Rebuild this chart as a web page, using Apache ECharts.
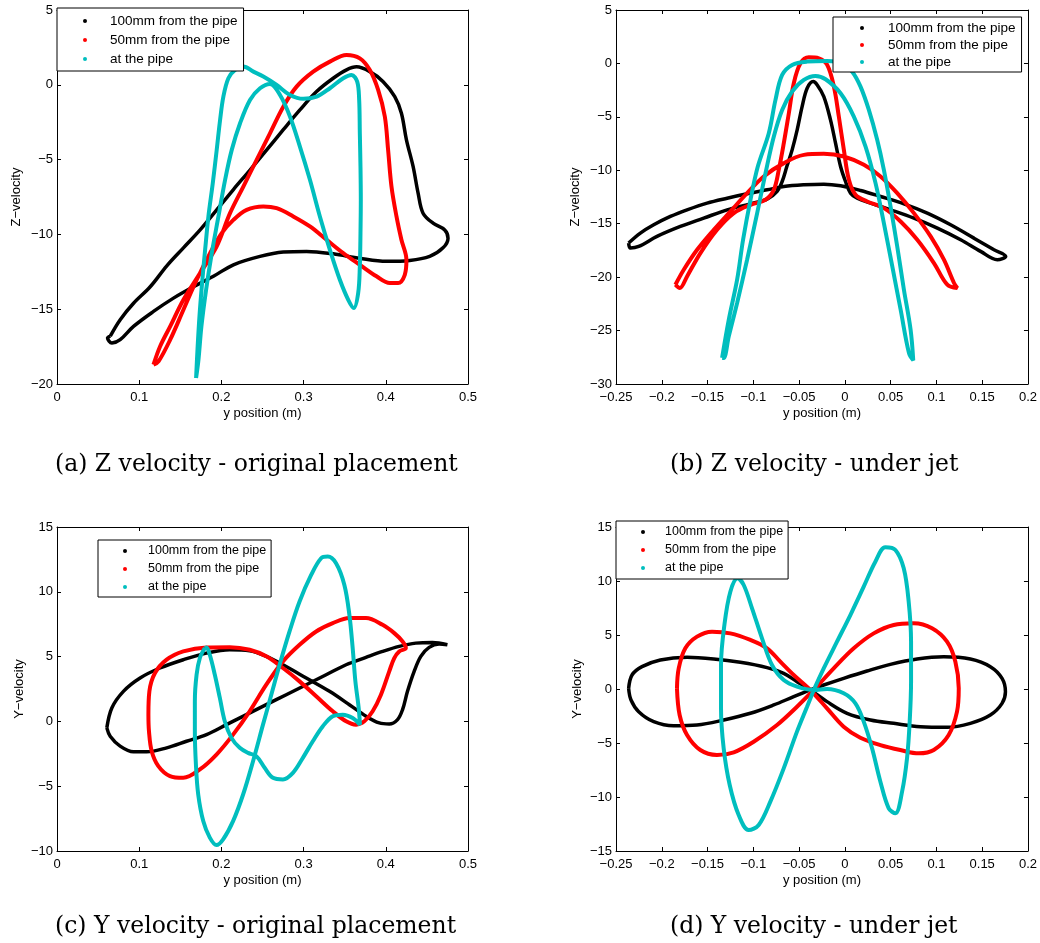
<!DOCTYPE html>
<html>
<head>
<meta charset="utf-8">
<script src="https://cdn.jsdelivr.net/npm/echarts@6/dist/echarts.min.js"></script>
<style>
html,body{margin:0;padding:0;background:#fff;}
#chart{width:1040px;height:943px;}
</style>
</head>
<body>
<div id="chart"></div>
<script>
// ---------- series names ----------
const seriesNames = ['100mm from the pipe', '50mm from the pipe', 'at the pipe'];

// ---------- captions ----------
const captions = [
  '(a) Z velocity - original placement',
  '(b) Z velocity - under jet',
  '(c) Y velocity - original placement',
  '(d) Y velocity - under jet'
];
const yNames = ['Z\u2212velocity', 'Z\u2212velocity', 'Y\u2212velocity', 'Y\u2212velocity'];
const xName = 'y position (m)';

// ---------- axis ranges [min, max, interval] ----------
const xRangeA = [0, 0.5, 0.1];
const yRangeA = [-20, 5, 5];
const xRangeB = [-0.25, 0.2, 0.05];
const yRangeB = [-30, 5, 5];
const xRangeC = [0, 0.5, 0.1];
const yRangeC = [-10, 15, 5];
const xRangeD = [-0.25, 0.2, 0.05];
const yRangeD = [-15, 15, 5];

// ---------- (a) Z velocity - original placement ----------
const aBlack = [[0.0648,-16.8],[0.0769,-15.7],[0.0931,-14.6],[0.1134,-13.5],[0.1336,-12.1],[0.1538,-10.9],[0.1741,-9.7],[0.1943,-8.36],[0.2146,-7.0],[0.2348,-5.7],[0.2551,-4.35],[0.2753,-3.0],[0.2955,-1.68],[0.3158,-0.45],[0.336,0.44],[0.3522,1.0],[0.3644,1.2],[0.3806,0.88],[0.3968,0.21],[0.4109,-0.79],[0.419,-1.9],[0.4251,-3.68],[0.4332,-5.46],[0.4393,-7.24],[0.4453,-8.58],[0.4575,-9.25],[0.4717,-9.7],[0.4757,-10.25],[0.4696,-10.9],[0.4534,-11.47],[0.4291,-11.74],[0.4008,-11.8],[0.3684,-11.6],[0.336,-11.3],[0.3036,-11.14],[0.2753,-11.18],[0.247,-11.47],[0.2146,-12.03],[0.1903,-12.8],[0.166,-13.5],[0.1417,-14.26],[0.1174,-15.15],[0.0931,-16.15],[0.0769,-17.04],[0.0668,-17.26],[0.0615,-16.93],[0.0648,-16.8]];
const aRed = [[0.1174,-18.71],[0.1255,-17.48],[0.1377,-16.15],[0.1538,-14.37],[0.1741,-12.59],[0.1943,-10.8],[0.2105,-8.58],[0.2267,-6.8],[0.2429,-5.02],[0.2591,-3.24],[0.2753,-1.46],[0.2915,-0.12],[0.3117,0.88],[0.332,1.55],[0.3522,2.0],[0.3684,1.77],[0.3806,0.99],[0.3907,-0.34],[0.3988,-2.12],[0.4028,-4.35],[0.4069,-6.8],[0.413,-8.8],[0.419,-10.36],[0.4251,-11.7],[0.4231,-12.7],[0.415,-13.25],[0.4049,-13.25],[0.3887,-12.8],[0.3684,-12.03],[0.3482,-11.25],[0.3279,-10.36],[0.3077,-9.47],[0.2874,-8.8],[0.2672,-8.25],[0.251,-8.13],[0.2308,-8.36],[0.2146,-9.03],[0.2004,-9.92],[0.1862,-11.25],[0.17,-13.03],[0.1538,-15.04],[0.1377,-17.04],[0.1235,-18.49],[0.1174,-18.71]];
const aCyan = [[0.1692,-19.6],[0.1709,-17.71],[0.1733,-15.48],[0.1765,-13.25],[0.1802,-11.03],[0.1842,-8.8],[0.1895,-6.58],[0.1943,-4.35],[0.1984,-2.35],[0.2024,-0.79],[0.2085,0.44],[0.2166,0.99],[0.2267,1.22],[0.2389,0.88],[0.251,0.55],[0.2672,-0.01],[0.2834,-0.68],[0.2996,-0.94],[0.3158,-0.79],[0.332,-0.23],[0.3482,0.44],[0.3583,0.66],[0.3652,0.21],[0.3676,-1.01],[0.3684,-3.24],[0.3692,-5.46],[0.3696,-7.69],[0.3692,-9.92],[0.3684,-12.14],[0.3664,-13.92],[0.3611,-14.92],[0.3543,-14.37],[0.3441,-13.03],[0.332,-11.03],[0.3198,-8.8],[0.3077,-6.35],[0.2955,-4.13],[0.2834,-2.12],[0.2713,-0.68],[0.2591,0.06],[0.247,-0.23],[0.2348,-1.01],[0.2227,-2.57],[0.2126,-4.35],[0.2045,-6.35],[0.1964,-8.8],[0.1883,-11.25],[0.1814,-13.7],[0.1757,-16.15],[0.1721,-18.38],[0.1692,-19.6]];

// ---------- (b) Z velocity - under jet ----------
const bBlack = [[-0.2362,-16.81],[-0.2234,-15.88],[-0.2088,-15.1],[-0.1906,-14.32],[-0.1724,-13.7],[-0.1505,-13.07],[-0.1286,-12.61],[-0.1068,-12.2],[-0.0849,-11.83],[-0.0667,-11.52],[-0.0448,-11.36],[-0.023,-11.3],[-0.0047,-11.45],[0.0171,-11.89],[0.039,-12.45],[0.0645,-13.14],[0.09,-14.01],[0.1155,-15.1],[0.141,-16.35],[0.1629,-17.44],[0.1757,-18.06],[0.1665,-18.37],[0.1483,-17.59],[0.1265,-16.5],[0.101,-15.41],[0.0754,-14.48],[0.05,-13.7],[0.0281,-13.07],[0.0135,-12.61],[0.0062,-12.14],[0.0007,-11.05],[-0.0047,-9.65],[-0.0102,-7.46],[-0.0157,-5.28],[-0.023,-3.1],[-0.0302,-2.01],[-0.0346,-1.7],[-0.0412,-2.32],[-0.0467,-4.04],[-0.0521,-6.22],[-0.0576,-8.09],[-0.0634,-9.65],[-0.0685,-11.05],[-0.074,-11.98],[-0.0849,-12.7],[-0.1031,-13.14],[-0.1286,-13.7],[-0.1542,-14.48],[-0.1797,-15.26],[-0.2052,-16.19],[-0.2252,-17.13],[-0.2343,-17.28],[-0.2362,-16.81]];
const bRed = [[-0.1851,-20.71],[-0.176,-19.31],[-0.1614,-17.44],[-0.1432,-15.57],[-0.125,-13.85],[-0.1068,-12.14],[-0.0886,-10.58],[-0.0667,-9.33],[-0.0448,-8.56],[-0.023,-8.46],[-0.0011,-8.71],[0.0208,-9.49],[0.039,-10.58],[0.0572,-12.14],[0.0754,-14.01],[0.0937,-16.19],[0.1082,-18.37],[0.1192,-20.55],[0.1228,-21.02],[0.1119,-20.71],[0.0973,-18.68],[0.0791,-16.5],[0.0609,-14.79],[0.0427,-13.54],[0.0244,-12.92],[0.0117,-12.3],[0.0044,-10.89],[-0.0011,-8.09],[-0.0066,-4.97],[-0.012,-2.17],[-0.0193,-0.14],[-0.0284,0.48],[-0.0394,0.57],[-0.0485,0.01],[-0.0558,-1.86],[-0.0612,-4.66],[-0.0667,-7.46],[-0.0722,-9.96],[-0.0776,-11.83],[-0.0867,-12.76],[-0.1031,-13.23],[-0.1213,-14.01],[-0.1396,-15.57],[-0.1578,-17.75],[-0.1724,-19.93],[-0.1804,-21.02],[-0.1851,-20.71]];
const bCyan = [[-0.1341,-27.56],[-0.1268,-23.98],[-0.1177,-20.24],[-0.1112,-16.5],[-0.1031,-12.76],[-0.0951,-9.65],[-0.0831,-6.53],[-0.0758,-3.41],[-0.0685,-1.08],[-0.0576,-0.14],[-0.0412,0.17],[-0.0193,0.23],[-0.0029,0.01],[0.008,-0.77],[0.0171,-2.17],[0.0262,-4.35],[0.0353,-7.15],[0.0426,-9.96],[0.0499,-13.39],[0.0572,-17.13],[0.0645,-21.18],[0.0718,-24.92],[0.0747,-27.78],[0.07,-27.1],[0.0609,-23.05],[0.0518,-19.0],[0.0426,-14.94],[0.0335,-11.2],[0.0226,-7.78],[0.0098,-4.97],[-0.0047,-2.79],[-0.0211,-1.48],[-0.0321,-1.17],[-0.0448,-1.54],[-0.0576,-2.63],[-0.0685,-4.35],[-0.0776,-6.84],[-0.0867,-10.27],[-0.0958,-14.01],[-0.1068,-18.37],[-0.1177,-22.42],[-0.1268,-25.54],[-0.1323,-27.56],[-0.1341,-27.56]];

// ---------- (c) Y velocity - original placement ----------
const cBlack = [[0.0606,-0.5],[0.0667,1.04],[0.0808,2.32],[0.1011,3.35],[0.1253,4.12],[0.1536,4.76],[0.1819,5.27],[0.2102,5.53],[0.2344,5.45],[0.2546,5.02],[0.2749,4.37],[0.3032,3.35],[0.3315,2.32],[0.3557,1.29],[0.3759,0.4],[0.3921,-0.12],[0.4042,-0.2],[0.4143,0.14],[0.4204,0.91],[0.4264,2.32],[0.4345,3.86],[0.4426,5.02],[0.4527,5.71],[0.4648,5.97],[0.4749,5.91],[0.4567,6.09],[0.4365,6.04],[0.4163,5.79],[0.3961,5.4],[0.3759,4.94],[0.3517,4.37],[0.3274,3.6],[0.3032,2.83],[0.2789,2.06],[0.2546,1.29],[0.2304,0.52],[0.2061,-0.25],[0.1819,-1.02],[0.1576,-1.53],[0.1334,-2.04],[0.1091,-2.35],[0.093,-2.35],[0.0768,-1.91],[0.0647,-1.14],[0.0606,-0.5]];
const cRed = [[0.1112,0.52],[0.1124,2.32],[0.1192,3.73],[0.1334,4.76],[0.1536,5.4],[0.1819,5.71],[0.2102,5.73],[0.2344,5.53],[0.2546,5.02],[0.2749,4.12],[0.2951,3.09],[0.3153,1.94],[0.3355,0.78],[0.3517,0.01],[0.3638,-0.25],[0.3739,0.01],[0.384,0.78],[0.3941,2.06],[0.4042,3.86],[0.4103,4.89],[0.4163,5.4],[0.4244,5.66],[0.4204,6.17],[0.4103,6.81],[0.3961,7.45],[0.3759,7.97],[0.3557,7.97],[0.3355,7.58],[0.3153,6.94],[0.2951,5.91],[0.2749,4.63],[0.2546,2.83],[0.2344,0.78],[0.2142,-1.02],[0.194,-2.56],[0.1738,-3.71],[0.1536,-4.35],[0.1374,-4.22],[0.1233,-3.45],[0.1152,-2.3],[0.1119,-0.76],[0.1112,0.52]];
const cCyan = [[0.1799,5.66],[0.1738,4.89],[0.1698,3.6],[0.1677,1.55],[0.1677,-0.76],[0.169,-3.33],[0.1718,-5.64],[0.1779,-7.69],[0.1859,-8.97],[0.194,-9.54],[0.2021,-9.1],[0.2142,-7.69],[0.2264,-5.64],[0.2385,-3.07],[0.2506,-0.25],[0.2607,2.06],[0.2708,4.37],[0.2829,6.94],[0.2951,9.25],[0.3092,11.3],[0.3213,12.59],[0.3294,12.72],[0.3395,12.2],[0.3496,10.53],[0.3557,8.22],[0.3597,5.66],[0.363,3.09],[0.367,1.04],[0.3686,-0.25],[0.3597,0.27],[0.3476,0.52],[0.3355,0.4],[0.3234,-0.37],[0.3112,-1.53],[0.2991,-2.81],[0.287,-3.97],[0.2749,-4.48],[0.2627,-4.35],[0.2526,-3.58],[0.2425,-2.68],[0.2324,-2.43],[0.2223,-2.04],[0.2122,-1.27],[0.2041,0.01],[0.1981,1.81],[0.192,3.6],[0.1859,5.14],[0.1819,5.71],[0.1799,5.66]];

// ---------- (d) Y velocity - under jet ----------
const dBlack = [[-0.2362,0.06],[-0.2325,1.3],[-0.2216,2.07],[-0.2016,2.69],[-0.1724,2.93],[-0.1433,2.78],[-0.1142,2.47],[-0.085,1.98],[-0.0668,1.45],[-0.0523,0.68],[-0.0377,-0.09],[-0.0195,-1.17],[0.0024,-2.25],[0.0279,-2.87],[0.0533,-3.18],[0.0825,-3.49],[0.1116,-3.55],[0.1371,-3.18],[0.1589,-2.41],[0.1717,-1.33],[0.1754,-0.25],[0.1717,0.99],[0.1589,2.07],[0.1371,2.78],[0.108,2.99],[0.0789,2.78],[0.0497,2.28],[0.0242,1.67],[-0.0013,0.99],[-0.0231,0.37],[-0.0377,-0.09],[-0.0559,-0.71],[-0.0777,-1.48],[-0.1032,-2.25],[-0.1324,-2.87],[-0.1615,-3.33],[-0.187,-3.4],[-0.2088,-3.02],[-0.2252,-2.1],[-0.2336,-1.02],[-0.2362,0.06]];
const dRed = [[-0.1834,0.06],[-0.1815,1.91],[-0.1743,3.77],[-0.1615,4.85],[-0.1451,5.31],[-0.1251,5.15],[-0.1032,4.54],[-0.085,3.77],[-0.0705,2.53],[-0.0559,1.3],[-0.0377,-0.09],[-0.0195,-1.79],[-0.0013,-3.49],[0.0169,-4.51],[0.0388,-5.19],[0.0606,-5.65],[0.0807,-5.96],[0.0971,-5.65],[0.1134,-4.26],[0.1225,-2.1],[0.1244,0.06],[0.1207,2.53],[0.1116,4.38],[0.0952,5.62],[0.0752,6.08],[0.0533,5.93],[0.0315,5.15],[0.0097,3.77],[-0.0122,1.91],[-0.034,-0.09],[-0.0523,-1.64],[-0.0741,-3.33],[-0.0996,-4.88],[-0.1214,-5.86],[-0.1397,-6.11],[-0.1579,-5.65],[-0.1724,-4.26],[-0.1805,-2.41],[-0.1834,0.06]];
const dCyan = [[-0.034,-0.09],[-0.0231,1.91],[-0.0086,4.38],[0.006,6.85],[0.0206,9.48],[0.0333,11.79],[0.0442,13.12],[0.0552,12.87],[0.0643,11.17],[0.0697,8.09],[0.0723,4.38],[0.0723,0.68],[0.0708,-3.02],[0.0679,-6.42],[0.0625,-9.51],[0.0552,-11.51],[0.0479,-11.05],[0.0388,-8.58],[0.0297,-5.49],[0.0206,-3.02],[0.0115,-1.33],[-0.0013,-0.4],[-0.0195,0.0],[-0.034,-0.09],[-0.0523,0.22],[-0.0668,0.83],[-0.0796,2.22],[-0.0905,4.69],[-0.1014,7.47],[-0.1105,9.63],[-0.1171,10.25],[-0.1251,9.01],[-0.1316,5.93],[-0.1353,2.22],[-0.1353,-1.79],[-0.1324,-5.49],[-0.1258,-8.89],[-0.116,-11.67],[-0.1051,-13.06],[-0.0941,-12.59],[-0.0814,-10.43],[-0.0668,-7.35],[-0.0523,-3.95],[-0.0413,-1.64],[-0.034,-0.09]];

// ---------- layout & styles ----------
const colors = ['#000000', '#ff0000', '#00bebe'];
const lineWidths = [3.5, 4, 4];
const grids = [
  {left: 57, top: 10, width: 411, height: 374},
  {left: 616, top: 10, width: 412, height: 374},
  {left: 57, top: 527, width: 411, height: 324},
  {left: 616, top: 527, width: 412, height: 324}
];
const xRanges = [xRangeA, xRangeB, xRangeC, xRangeD];
const yRanges = [yRangeA, yRangeB, yRangeC, yRangeD];
const panelData = [[aBlack, aRed, aCyan], [bBlack, bRed, bCyan], [cBlack, cRed, cCyan], [dBlack, dRed, dCyan]];
const yNameGaps = [34, 34, 31, 32];
const captionPos = [[55, 453], [670, 453], [55, 915], [670, 915]];
const legendCfg = [
  {left: 57, top: 8, itemWidth: 40, itemGap: 5, fontSize: 13.5, padding: [6, 6, 5, 26]},
  {left: 833, top: 17, itemWidth: 42, itemGap: 3, fontSize: 13.5, padding: [4, 6, 3, 27]},
  {left: 98, top: 540, itemWidth: 36, itemGap: 4, fontSize: 12.5, padding: [4, 5, 3, 25]},
  {left: 616, top: 521, itemWidth: 34, itemGap: 4, fontSize: 12.5, padding: [4, 5, 4, 25]}
];

const font = 'Liberation Sans, Arial, Helvetica, sans-serif';
function fmt(v) {
  const s = String(Math.round(v * 1000) / 1000);
  return s.replace('-', '\u2212');
}

const xAxes = [], yAxes = [], series = [], legends = [], titles = [];
for (let i = 0; i < 4; i++) {
  const xr = xRanges[i], yr = yRanges[i];
  const common = {
    type: 'value',
    gridIndex: i,
    splitLine: {show: false},
    axisLine: {show: true, onZero: false, lineStyle: {color: '#000', width: 1}},
    axisTick: {show: true, inside: true, length: 4, lineStyle: {color: '#000', width: 1}}
  };
  xAxes.push(Object.assign({}, common, {
    position: 'bottom', min: xr[0], max: xr[1], interval: xr[2],
    name: xName, nameLocation: 'middle', nameGap: 23,
    nameTextStyle: {fontFamily: font, fontSize: 13, color: '#000'},
    axisLabel: {show: true, color: '#000', fontFamily: font, fontSize: 13, margin: 7, formatter: fmt, showMinLabel: true, showMaxLabel: true}
  }));
  xAxes.push(Object.assign({}, common, {
    position: 'top', min: xr[0], max: xr[1], interval: xr[2],
    axisLabel: {show: false}
  }));
  yAxes.push(Object.assign({}, common, {
    position: 'left', min: yr[0], max: yr[1], interval: yr[2],
    name: yNames[i], nameLocation: 'middle', nameGap: yNameGaps[i],
    nameTextStyle: {fontFamily: font, fontSize: 13, color: '#000'},
    axisLabel: {show: true, color: '#000', fontFamily: font, fontSize: 13, margin: 4, formatter: fmt, showMinLabel: true, showMaxLabel: true}
  }));
  yAxes.push(Object.assign({}, common, {
    position: 'right', min: yr[0], max: yr[1], interval: yr[2],
    axisLabel: {show: false}
  }));
  for (let k = 0; k < 3; k++) {
    series.push({
      type: 'line',
      name: seriesNames[k],
      xAxisIndex: 2 * i,
      yAxisIndex: 2 * i,
      data: panelData[i][k],
      showSymbol: false,
      smooth: 0.35,
      clip: true,
      color: colors[k],
      lineStyle: {color: colors[k], width: lineWidths[k]},
      z: 2 + k
    });
  }
  const lc = legendCfg[i];
  legends.push({
    data: seriesNames,
    orient: 'vertical',
    left: lc.left, top: lc.top,
    icon: 'circle',
    itemWidth: lc.itemWidth, itemHeight: 4,
    itemGap: lc.itemGap,
    padding: lc.padding,
    borderColor: '#000', borderWidth: 1,
    backgroundColor: '#fff',
    selectedMode: false,
    textStyle: {fontFamily: font, fontSize: lc.fontSize, color: '#000', lineHeight: 14},
    z: 10
  });
  titles.push({
    text: captions[i],
    left: captionPos[i][0], top: captionPos[i][1],
    padding: 0,
    textStyle: {fontFamily: 'DejaVu Serif, Liberation Serif, serif', fontSize: 23.5, fontWeight: 'normal', color: '#000'}
  });
}

const chart = echarts.init(document.getElementById('chart'), null, {renderer: 'canvas'});
chart.setOption({
  animation: false,
  backgroundColor: '#fff',
  title: titles,
  legend: legends,
  grid: grids.map(g => Object.assign({containLabel: false}, g)),
  xAxis: xAxes,
  yAxis: yAxes,
  series: series
});
</script>
</body>
</html>
